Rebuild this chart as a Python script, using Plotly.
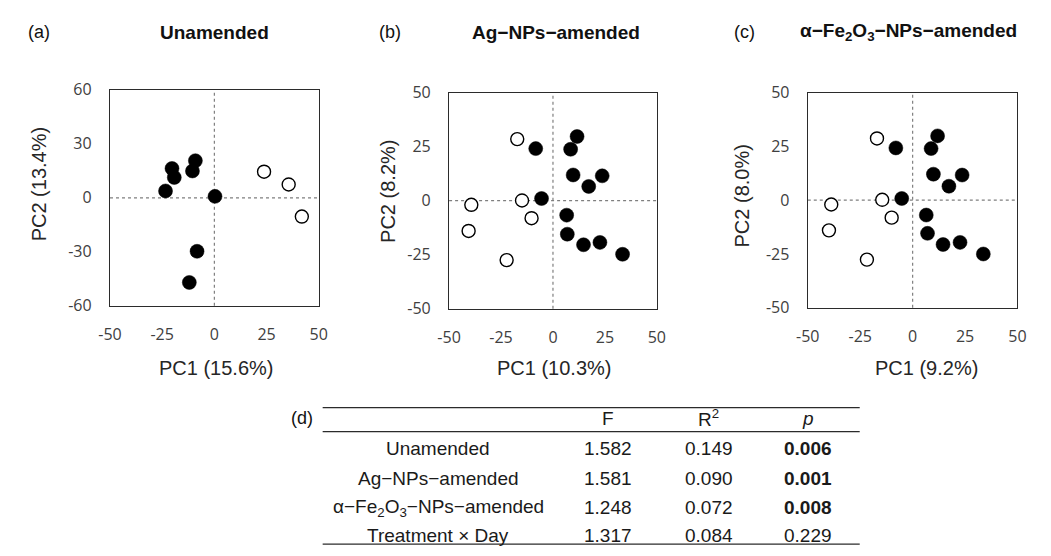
import plotly.graph_objects as go

W, H = 1051, 556


def px(x):
    return x / W


def py(y):
    return 1 - y / H


# ---------------- data ----------------
# (a) Unamended
a_filled_pc1 = [-20.3, -19.2, -23.4, -9.1, -10.5, 0.3, -8.3, -12.0]
a_filled_pc2 = [16.3, 11.3, 3.8, 20.6, 14.9, 0.8, -29.7, -47.0]
a_open_pc1 = [23.8, 35.6, 41.9]
a_open_pc2 = [14.5, 7.4, -10.4]

# (b) Ag-NPs-amended
b_filled_pc1 = [11.6, 8.5, -8.3, 9.7, 23.7, 17.2, -5.5, 6.6, 6.9, 14.7, 22.6, 33.5]
b_filled_pc2 = [29.7, 23.8, 24.1, 11.9, 11.5, 6.6, 1.0, -6.7, -15.5, -20.4, -19.3, -24.8]
b_open_pc1 = [-17.2, -14.9, -10.3, -39.3, -40.6, -22.3]
b_open_pc2 = [28.5, 0.1, -8.1, -1.9, -14.0, -27.5]

# (c) alpha-Fe2O3-NPs-amended
c_filled_pc1 = [11.9, 8.8, -8.0, 9.9, 23.6, 17.3, -5.2, 6.5, 7.1, 14.5, 22.6, 33.7]
c_filled_pc2 = [29.9, 24.0, 24.3, 12.1, 11.7, 6.5, 0.8, -6.9, -15.4, -20.6, -19.6, -25.0]
c_open_pc1 = [-17.0, -14.5, -10.0, -38.8, -39.9, -21.8]
c_open_pc2 = [28.7, 0.2, -8.1, -2.0, -14.0, -27.6]

panel_letters = ["(a)", "(b)", "(c)"]
panel_titles = ["Unamended", "Ag\u2212NPs\u2212amended",
                "\u03b1\u2212Fe<sub>2</sub>O<sub>3</sub>\u2212NPs\u2212amended"]
pc1_labels = ["PC1 (15.6%)", "PC1 (10.3%)", "PC1 (9.2%)"]
pc2_labels = ["PC2 (13.4%)", "PC2 (8.2%)", "PC2 (8.0%)"]
x_tickvals = [-50, -25, 0, 25, 50]
x_ticktext = ["-50", "-25", "0", "25", "50"]
ya_tickvals = [-60, -30, 0, 30, 60]
ya_ticktext = ["-60", "-30", "0", "30", "60"]
yb_tickvals = [-50, -25, 0, 25, 50]
yb_ticktext = ["-50", "-25", "0", "25", "50"]
y_ranges = [[-60, 60], [-50, 50], [-50, 50]]
x_range = [-50, 50]

# (d) PERMANOVA table
table_header = ["F", "R<sup>2</sup>", "<i>p</i>"]
table_rows = ["Unamended", "Ag\u2212NPs\u2212amended",
              "\u03b1\u2212Fe<sub>2</sub>O<sub>3</sub>\u2212NPs\u2212amended",
              "Treatment \u00d7 Day"]
table_F = ["1.582", "1.581", "1.248", "1.317"]
table_R2 = ["0.149", "0.090", "0.072", "0.084"]
table_p = ["0.006", "0.001", "0.008", "0.229"]
table_p_bold = [True, True, True, False]

# ---------------- layout geometry (pixels) ----------------
panel_x = [(100, 313), (446, 658), (812, 1026)]
panel_y = [(82, 307), (85, 310), (85, 309)]
letter_pos = [(28, 22), (386, 22), (747, 22)]
title_pos = [(207, 22), (555, 22), (915, 22)]
xtitle_pos = [(209, 372), (554, 372), (933, 372)]
ytitle_pos = [(27, 180), (383, 188), (745, 193)]

TXT = "Liberation Sans, Arial, sans-serif"
TICK = "Open Sans, sans-serif"

fig = go.Figure()
series = [
    (a_filled_pc1, a_filled_pc2, a_open_pc1, a_open_pc2),
    (b_filled_pc1, b_filled_pc2, b_open_pc1, b_open_pc2),
    (c_filled_pc1, c_filled_pc2, c_open_pc1, c_open_pc2),
]
y_ticks = [(ya_tickvals, ya_ticktext), (yb_tickvals, yb_ticktext), (yb_tickvals, yb_ticktext)]
for i, (fx, fy, ox, oy) in enumerate(series):
    xa = "x" if i == 0 else f"x{i+1}"
    ya = "y" if i == 0 else f"y{i+1}"
    fig.add_trace(go.Scatter(x=ox, y=oy, mode="markers", xaxis=xa, yaxis=ya,
                             marker=dict(size=13, color="white", symbol="circle",
                                         line=dict(color="black", width=1.4)),
                             showlegend=False, hoverinfo="skip"))
    fig.add_trace(go.Scatter(x=fx, y=fy, mode="markers", xaxis=xa, yaxis=ya,
                             marker=dict(size=14, color="black", symbol="circle",
                                         line=dict(color="black", width=0.5)),
                             showlegend=False, hoverinfo="skip"))

layout = dict(
    width=W, height=H,
    margin=dict(l=0, r=0, t=0, b=0),
    paper_bgcolor="white", plot_bgcolor="white",
    showlegend=False,
)
shapes = []
annotations = []
for i in range(3):
    sfx = "" if i == 0 else str(i + 1)
    x0, x1 = panel_x[i]
    y0, y1 = panel_y[i]
    axis_common = dict(showgrid=False, zeroline=False, showline=True, mirror=True,
                       linecolor="#2b2b2b", linewidth=1.3, ticks="",
                       tickfont=dict(family=TICK, size=16, color="#404040"))
    layout["xaxis" + sfx] = dict(domain=[px(x0), px(x1)], range=x_range,
                                 tickmode="array", tickvals=x_tickvals, ticktext=x_ticktext,
                                 anchor="y" + sfx, ticklabelstandoff=14, **axis_common)
    layout["yaxis" + sfx] = dict(domain=[py(y1), py(y0)], range=y_ranges[i],
                                 tickmode="array", tickvals=y_ticks[i][0],
                                 ticktext=y_ticks[i][1], anchor="x" + sfx,
                                 ticklabelstandoff=14, **axis_common)
    # dotted zero reference lines
    shapes.append(dict(type="line", xref=f"x{sfx} domain", x0=0, x1=1,
                       yref="y" + sfx, y0=0, y1=0, layer="below",
                       line=dict(color="#7f7f7f", width=1.2, dash="dot")))
    shapes.append(dict(type="line", xref="x" + sfx, x0=0, x1=0,
                       yref=f"y{sfx} domain", y0=0, y1=1, layer="below",
                       line=dict(color="#7f7f7f", width=1.2, dash="dot")))
    annotations.append(dict(text=panel_letters[i], x=px(letter_pos[i][0]), y=py(letter_pos[i][1]),
                            xref="paper", yref="paper", showarrow=False,
                            xanchor="center", yanchor="middle",
                            font=dict(family=TXT, size=18, color="#111")))
    annotations.append(dict(text="<b>" + panel_titles[i] + "</b>",
                            x=px(title_pos[i][0]), y=py(title_pos[i][1]),
                            xref="paper", yref="paper", showarrow=False,
                            xanchor="center", yanchor="middle",
                            font=dict(family=TXT, size=19, color="#111")))
    annotations.append(dict(text=pc1_labels[i], x=px(xtitle_pos[i][0]), y=py(xtitle_pos[i][1]),
                            xref="paper", yref="paper", showarrow=False,
                            xanchor="center", yanchor="middle",
                            font=dict(family=TXT, size=20, color="#262626")))
    annotations.append(dict(text=pc2_labels[i], x=px(ytitle_pos[i][0]), y=py(ytitle_pos[i][1]),
                            xref="paper", yref="paper", showarrow=False, textangle=-90,
                            xanchor="center", yanchor="middle",
                            font=dict(family=TXT, size=20, color="#262626")))

# ---------------- table (d) ----------------
rule_x = (317, 865)
for ry in (413, 438, 555):
    shapes.append(dict(type="line", xref="paper", yref="paper",
                       x0=px(rule_x[0]), x1=px(rule_x[1]), y0=py(ry), y1=py(ry),
                       line=dict(color="#2b2b2b", width=1.3)))
annotations.append(dict(text="(d)", x=px(296), y=py(424), xref="paper", yref="paper",
                        showarrow=False, xanchor="center", yanchor="middle",
                        font=dict(family=TXT, size=18, color="#111")))
col_x = [608, 711, 812]
header_y = 424
row_y = [456, 487, 517, 546]
label_x = 435
tfont = dict(family=TXT, size=19, color="#1a1a1a")
for cx, htxt in zip(col_x, table_header):
    annotations.append(dict(text=htxt, x=px(cx), y=py(header_y), xref="paper", yref="paper",
                            showarrow=False, xanchor="center", yanchor="middle", font=tfont))
for j, ry in enumerate(row_y):
    annotations.append(dict(text=table_rows[j], x=px(label_x), y=py(ry), xref="paper",
                            yref="paper", showarrow=False, xanchor="center",
                            yanchor="middle", font=tfont))
    vals = [table_F[j], table_R2[j],
            ("<b>" + table_p[j] + "</b>") if table_p_bold[j] else table_p[j]]
    for cx, v in zip(col_x, vals):
        annotations.append(dict(text=v, x=px(cx), y=py(row_y[j]), xref="paper", yref="paper",
                                showarrow=False, xanchor="center", yanchor="middle",
                                font=tfont))

layout["shapes"] = shapes
layout["annotations"] = annotations
fig.update_layout(**layout)
fig.write_html("out.html",
               config={"displayModeBar": False},
               post_script="document.body.style.margin='0';document.body.style.overflow='hidden';")
